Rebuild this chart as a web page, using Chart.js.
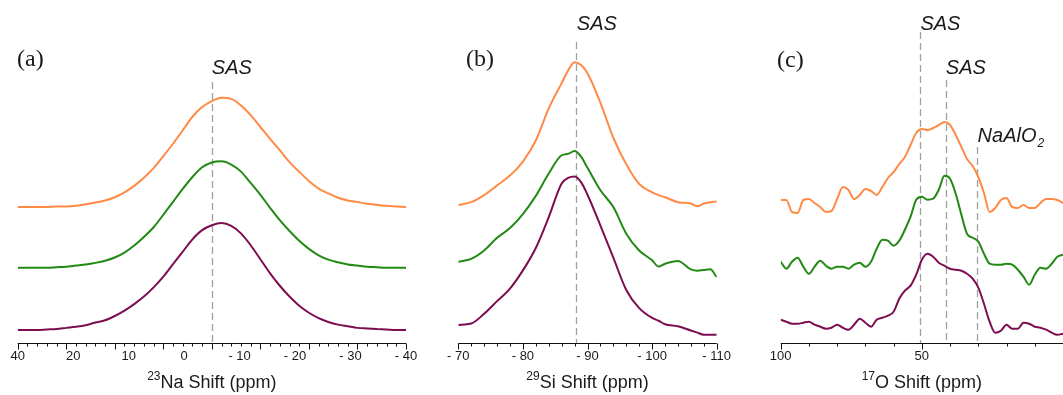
<!DOCTYPE html>
<html>
<head>
<meta charset="utf-8">
<script src="https://cdn.jsdelivr.net/npm/chart.js@4/dist/chart.umd.min.js"></script>
<style>
  html, body { margin: 0; padding: 0; background: #fff; }
  body { width: 1063px; height: 395px; position: relative; overflow: hidden; }
  canvas { position: absolute; top: 0; }
</style>
</head>
<body>
<canvas id="naChart" width="430" height="395" style="left:0px"></canvas>
<canvas id="siChart" width="300" height="395" style="left:440px"></canvas>
<canvas id="oChart" width="303" height="395" style="left:760px"></canvas>
<script>
// 23Na spectra (normalised intensity, baseline = 0)
const naShift  = [40, 38, 36, 34, 32, 30, 28, 26, 24, 22, 20, 18, 16, 14, 12, 10, 8, 6, 4, 2, 0,
                  -2, -4, -6, -8, -10, -12, -14, -16, -18, -20, -22, -24, -26, -28, -30, -32, -34, -36, -38, -40];
const naOrange = [0, 0, 0, 0, 0.005, 0.005, 0.01, 0.025, 0.04, 0.06, 0.09, 0.135, 0.195, 0.27, 0.36, 0.47, 0.585, 0.71, 0.835, 0.925, 0.98,
                  1.01, 1.0, 0.94, 0.85, 0.74, 0.63, 0.525, 0.415, 0.325, 0.24, 0.17, 0.125, 0.085, 0.06, 0.045, 0.03, 0.02, 0.01, 0.005, 0];
const naGreen  = [0, 0, 0, 0, 0.005, 0.01, 0.02, 0.03, 0.045, 0.065, 0.095, 0.14, 0.205, 0.285, 0.375, 0.49, 0.61, 0.73, 0.84, 0.93, 0.975,
                  0.985, 0.955, 0.89, 0.785, 0.675, 0.555, 0.44, 0.34, 0.25, 0.175, 0.115, 0.075, 0.05, 0.03, 0.02, 0.01, 0.005, 0, 0, 0];
const naPurple = [0, 0, 0, 0.005, 0.01, 0.02, 0.03, 0.045, 0.07, 0.09, 0.13, 0.18, 0.24, 0.31, 0.395, 0.495, 0.61, 0.725, 0.84, 0.925, 0.97,
                  0.99, 0.965, 0.895, 0.785, 0.655, 0.525, 0.41, 0.31, 0.225, 0.16, 0.11, 0.075, 0.05, 0.035, 0.02, 0.015, 0.01, 0.005, 0, 0];
const naTickValues = [30, 20, 10, 0, -10, -20, -30, -40];
const naTickLabels = ['40', '20', '10', '0', '- 10', '- 20', '- 30', '- 40'];

// 29Si spectra
const siShift  = [-70, -72, -74, -76, -78, -80, -82, -84, -86, -87, -88, -89, -90, -92, -94, -96, -98, -100, -101, -102, -104, -106, -107, -108, -109, -110];
const siOrange = [0, 0.02, 0.07, 0.14, 0.21, 0.31, 0.46, 0.69, 0.87, 0.96, 1.02, 1.0, 0.94, 0.73, 0.48, 0.29, 0.15, 0.09, 0.07, 0.055, 0.02, 0.01, -0.01, 0.01, 0.02, 0.025];
const siGreen  = [0, 0.02, 0.08, 0.17, 0.24, 0.34, 0.47, 0.63, 0.76, 0.77, 0.79, 0.75, 0.67, 0.51, 0.39, 0.2, 0.08, 0.01, -0.035, -0.015, 0.005, -0.055, -0.065, -0.06, -0.055, -0.11];
const siPurple = [0, 0.01, 0.08, 0.17, 0.26, 0.39, 0.55, 0.77, 1.01, 1.05, 1.06, 1.02, 0.93, 0.71, 0.48, 0.25, 0.12, 0.05, 0.03, 0.005, -0.01, -0.04, -0.055, -0.07, -0.07, -0.07];
const siTickValues = [-70, -80, -90, -100, -110];
const siTickLabels = ['- 70', '- 80', '- 90', '- 100', '- 110'];

// 17O spectra
const oShift  = [100, 98, 96, 94, 92, 90, 88, 86, 84, 82, 80, 78, 76, 74, 72, 70, 68, 66, 64, 62, 60, 58, 56, 54, 52, 50,
                 48, 46, 44, 42, 40, 38, 36, 34, 32, 30, 28, 26, 24, 22, 20, 18, 16, 14, 12, 10, 8, 6, 4, 2, 0];
const oOrange = [0.05, 0.05, -0.07, -0.08, 0.05, 0.06, 0.02, -0.02, -0.07, -0.06, 0.06, 0.18, 0.15, 0.06, 0.1, 0.16, 0.14, 0.1, 0.18, 0.27, 0.33, 0.41, 0.48, 0.6, 0.72, 0.76,
                 0.75, 0.77, 0.8, 0.83, 0.8, 0.7, 0.58, 0.46, 0.39, 0.28, 0.12, -0.07, -0.03, 0.05, 0.07, -0.02, -0.03, 0.0, -0.03, -0.03, 0.02, 0.06, 0.06, 0.05, 0.02];
const oGreen  = [0.05, -0.02, 0.05, 0.09, 0.0, -0.07, 0.0, 0.06, 0.01, -0.02, 0.0, 0.0, -0.02, 0.02, 0.04, 0.0, 0.05, 0.18, 0.27, 0.26, 0.21, 0.26, 0.37, 0.5, 0.67, 0.7,
                 0.67, 0.68, 0.77, 0.91, 0.88, 0.73, 0.52, 0.33, 0.29, 0.25, 0.13, 0.03, 0.02, 0.02, 0.03, 0.02, -0.03, -0.1, -0.18, -0.08, -0.01, -0.02, 0.03, 0.1, 0.12];
const oPurple = [0.07, 0.05, 0.03, 0.03, 0.04, 0.05, 0.02, 0.0, -0.02, -0.01, 0.02, -0.01, -0.03, 0.02, 0.08, 0.04, 0.0, 0.07, 0.09, 0.11, 0.15, 0.28, 0.36, 0.41, 0.52, 0.67,
                 0.73, 0.7, 0.64, 0.61, 0.58, 0.57, 0.56, 0.53, 0.48, 0.39, 0.23, 0.05, -0.06, -0.04, 0.02, -0.02, -0.02, 0.04, 0.03, 0.0, -0.01, -0.03, -0.06, -0.08, -0.07];
const oTickValues = [100, 50];
const oTickLabels = ['100', '50'];

const COLORS = {
  orange: '#ff8a45',
  green:  '#228a14',
  purple: '#7c0d50',
  marker: '#a0a0a0',
  text:   '#1a1a1a',
};

const SANS = '"Liberation Sans", Arial, sans-serif';
const SERIF = '"Liberation Serif", "Times New Roman", serif';

function stackSeries(xs, ys, offset) {
  return xs.map((x, i) => ({ x, y: ys[i] + offset }));
}

// dashed site markers go under the spectra, axis and text on top
const panelDecor = {
  id: 'panelDecor',
  beforeDatasetsDraw(chart, args, o) {
    const { ctx, chartArea: area } = chart;
    const x = chart.scales.x;
    ctx.save();
    ctx.strokeStyle = COLORS.marker;
    ctx.lineWidth = 1.3;
    ctx.setLineDash([7, 4]);
    o.markers.forEach(m => {
      const px = Math.round(x.getPixelForValue(m.at)) + 0.5;
      ctx.beginPath();
      ctx.moveTo(px, m.top);
      ctx.lineTo(px, area.bottom);
      ctx.stroke();
    });
    ctx.restore();
  },
  afterDraw(chart, args, o) {
    const { ctx, chartArea: area } = chart;
    const x = chart.scales.x;
    const lx = chart.scales[o.labelScale];
    const base = Math.round(area.bottom) + 0.5;
    ctx.save();

    // axis line + ticks
    ctx.strokeStyle = '#111';
    ctx.lineWidth = 1.2;
    ctx.beginPath();
    ctx.moveTo(area.left, base);
    ctx.lineTo(area.right, base);
    ctx.stroke();
    ctx.lineWidth = 1;
    for (let v = x.min; v <= x.max; v += o.minorStep) {
      const px = Math.round(x.getPixelForValue(v)) + 0.5;
      const len = v % o.majorStep === 0 ? 6 : 3;
      ctx.beginPath();
      ctx.moveTo(px, base);
      ctx.lineTo(px, base + len);
      ctx.stroke();
    }

    // tick labels
    ctx.fillStyle = COLORS.text;
    ctx.font = '13px ' + SANS;
    ctx.textAlign = 'center';
    ctx.textBaseline = 'middle';
    o.tickValues.forEach((v, i) => ctx.fillText(o.tickLabels[i], lx.getPixelForValue(v), base + 13));

    // axis title with isotope superscript
    const cx = (area.left + area.right) / 2;
    ctx.textAlign = 'left';
    ctx.textBaseline = 'alphabetic';
    ctx.font = '12px ' + SANS;
    const supW = ctx.measureText(o.title.sup).width;
    ctx.font = '18px ' + SANS;
    const mainW = ctx.measureText(o.title.text).width;
    const tx = cx - (supW + mainW) / 2;
    ctx.fillText(o.title.text, tx + supW, 388);
    ctx.font = '12px ' + SANS;
    ctx.fillText(o.title.sup, tx, 380);

    // panel tag
    ctx.font = '24px ' + SERIF;
    ctx.fillText(o.tag.text, o.tag.x, o.tag.y);

    // site labels
    o.notes.forEach(n => {
      const px = x.getPixelForValue(n.at) + n.dx;
      ctx.font = 'italic 20px ' + SANS;
      ctx.fillText(n.text, px, n.y);
      if (n.sub) {
        const w = ctx.measureText(n.text).width;
        ctx.font = 'italic 12px ' + SANS;
        ctx.fillText(n.sub, px + w + 1, n.y + 5);
      }
    });
    ctx.restore();
  },
};

function makePanel(canvasId, cfg) {
  const names = ['orange', 'green', 'purple'];
  return new Chart(document.getElementById(canvasId), {
    type: 'line',
    data: {
      datasets: cfg.series.map((ys, i) => ({
        data: stackSeries(cfg.shift, ys, cfg.offsets[i]),
        borderColor: COLORS[names[i]],
        borderWidth: 2,
        pointRadius: 0,
        cubicInterpolationMode: 'monotone',
        fill: false,
      })),
    },
    options: {
      responsive: false,
      animation: false,
      events: [],
      layout: { padding: cfg.padding },
      plugins: {
        legend: { display: false },
        tooltip: { enabled: false },
        panelDecor: cfg.decor,
      },
      scales: Object.assign({
        x: { type: 'linear', reverse: true, min: cfg.xRange[0], max: cfg.xRange[1], display: false },
        y: { type: 'linear', min: cfg.yRange[0], max: cfg.yRange[1], display: false },
      }, cfg.extraScales || {}),
    },
    plugins: [panelDecor],
  });
}

makePanel('naChart', {
  shift: naShift,
  series: [naOrange, naGreen, naPurple],
  offsets: [1.14, 0.577, 0],
  xRange: [-40, 40],
  yRange: [-0.12, 3.056],
  padding: { left: 17.7, right: 24, top: 0, bottom: 52 },
  extraScales: { xl: { type: 'linear', reverse: true, min: -40, max: 30, display: false } },
  decor: {
    labelScale: 'xl',
    minorStep: 2, majorStep: 10,
    tickValues: naTickValues, tickLabels: naTickLabels,
    title: { sup: '23', text: 'Na Shift (ppm)' },
    tag: { text: '(a)', x: 17, y: 66 },
    markers: [{ at: 0, top: 82 }],
    notes: [{ text: 'SAS', at: 0, dx: 0, y: 74 }],
  },
});

makePanel('siChart', {
  shift: siShift,
  series: [siOrange, siGreen, siPurple],
  offsets: [0.857, 0.452, 0],
  xRange: [-110, -70],
  yRange: [-0.129, 2.321],
  padding: { left: 18.3, right: 23.3, top: 0, bottom: 52 },
  decor: {
    labelScale: 'x',
    minorStep: 2, majorStep: 10,
    tickValues: siTickValues, tickLabels: siTickLabels,
    title: { sup: '29', text: 'Si Shift (ppm)' },
    tag: { text: '(b)', x: 26, y: 66 },
    markers: [{ at: -88.2, top: 42 }],
    notes: [{ text: 'SAS', at: -88.2, dx: 1, y: 30 }],
  },
});

makePanel('oChart', {
  shift: oShift,
  series: [oOrange, oGreen, oPurple],
  offsets: [1.217, 0.6, 0],
  xRange: [0, 100],
  yRange: [-0.163, 3.267],
  padding: { left: 20.7, right: 0, top: 0, bottom: 52 },
  decor: {
    labelScale: 'x',
    minorStep: 10, majorStep: 50,
    tickValues: oTickValues, tickLabels: oTickLabels,
    title: { sup: '17', text: 'O Shift (ppm)' },
    tag: { text: '(c)', x: 17, y: 67 },
    markers: [{ at: 50.5, top: 32 }, { at: 41.5, top: 80 }, { at: 30.6, top: 147 }],
    notes: [
      { text: 'SAS', at: 50.5, dx: 0, y: 30 },
      { text: 'SAS', at: 41.5, dx: 0, y: 74 },
      { text: 'NaAlO', sub: '2', at: 30.6, dx: 1, y: 142 },
    ],
  },
});
</script>
</body>
</html>
